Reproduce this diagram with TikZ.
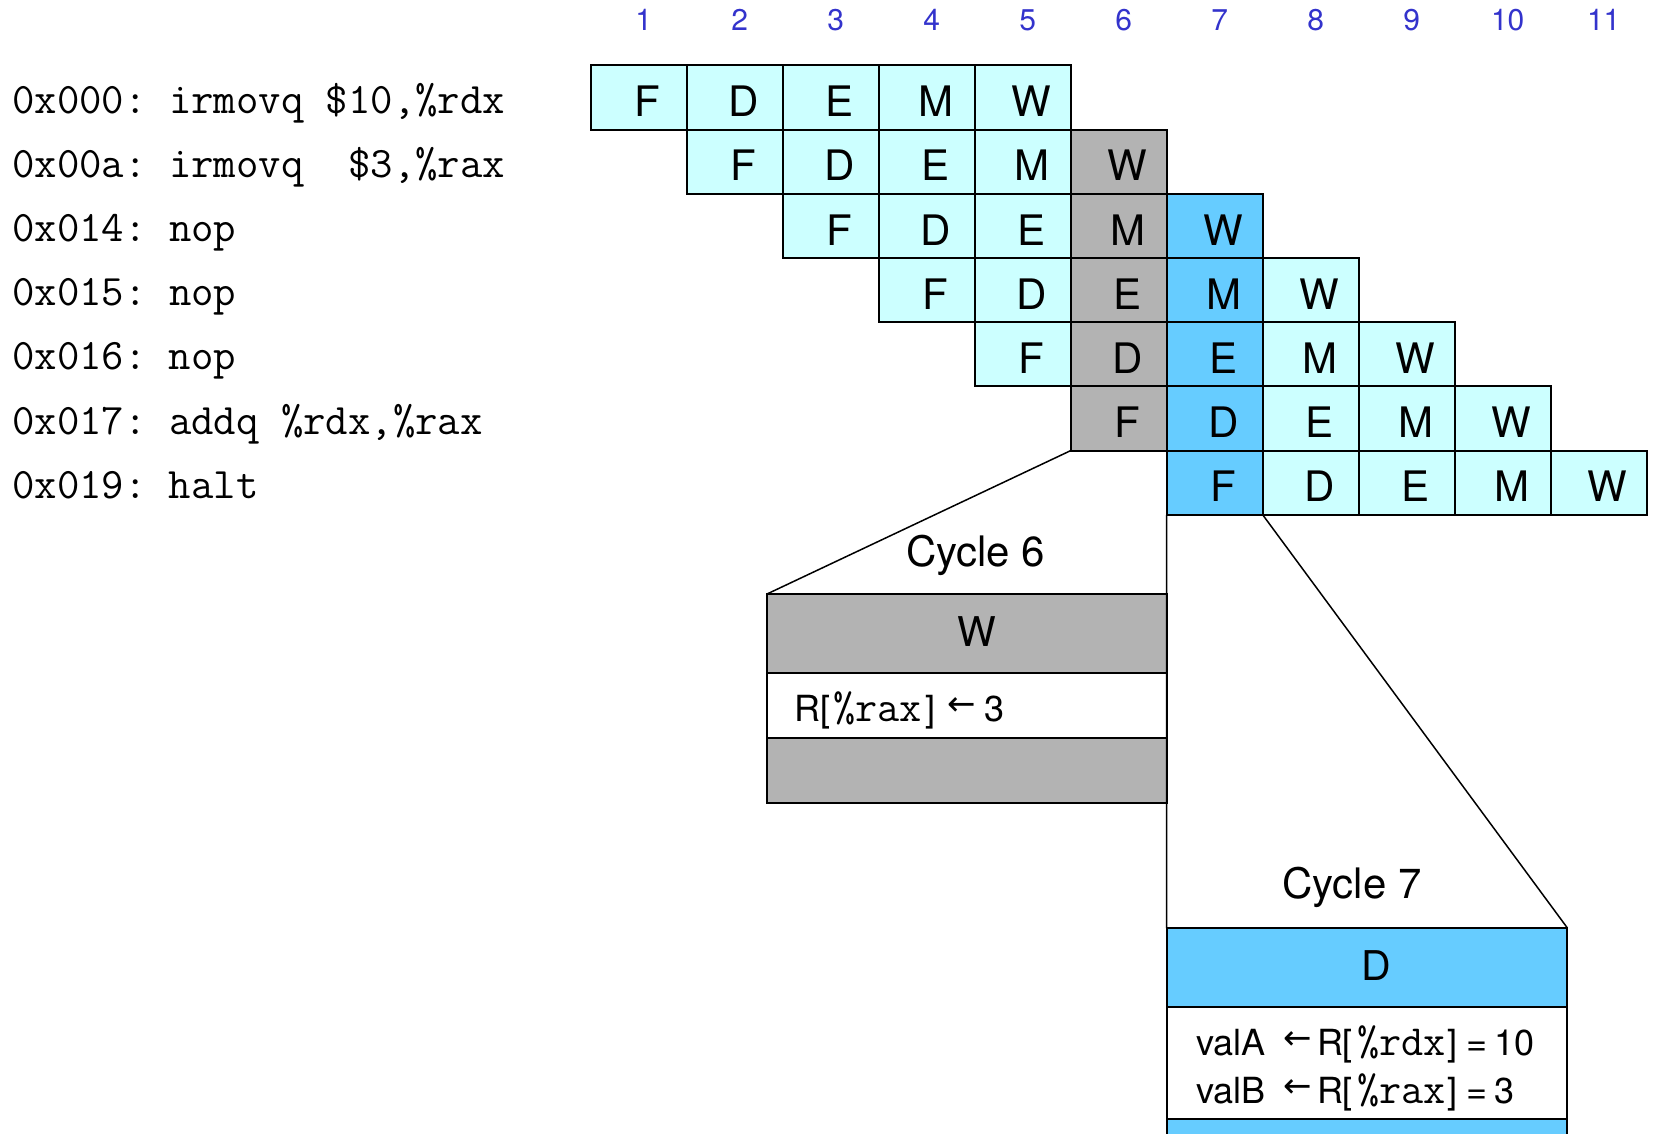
\documentclass[tikz,border=0pt]{standalone}
\usepackage{fontspec}
\setmainfont{TeX Gyre Heros}
\newfontfamily\dejavu{DejaVu Sans}
\usetikzlibrary{calc}
\definecolor{cellcyan}{HTML}{CCFFFF}
\definecolor{cellgray}{HTML}{B3B3B3}
\definecolor{cellblue}{HTML}{66CCFF}
\definecolor{numblue}{HTML}{3333CC}
\newcommand\larr{\raisebox{6pt}{\dejavu\fontsize{34}{34}\selectfont ←}}
\newcommand\monot[1]{{\ttfamily\fontsize{43}{43}\selectfont #1}}
\begin{document}
\begin{tikzpicture}[x=1pt,y=-1pt,
  cellbox/.style={draw=black, line width=2pt, minimum width=96pt, minimum height=64.2pt, inner sep=0pt, outer sep=0pt, anchor=north west},
  celltext/.style={inner sep=0pt, font=\fontsize{42}{42}\selectfont},
  numtext/.style={inner sep=0pt, text=numblue, font=\fontsize{30}{30}\selectfont},
  codetext/.style={inner sep=0pt, anchor=base west, font=\ttfamily\fontsize{43.5}{43.5}\selectfont\frenchspacing},
  bandbox/.style={draw=black, line width=2pt, inner sep=0pt, outer sep=0pt, anchor=north west},
  cyctext/.style={inner sep=0pt, anchor=base, font=\fontsize{42}{42}\selectfont},
  stagetext/.style={inner sep=0pt, anchor=base, font=\fontsize{41}{41}\selectfont},
  valtext/.style={inner sep=0pt, anchor=base west, font=\fontsize{36}{36}\selectfont},
  proj/.style={draw=black, line width=1.5pt}]
\useasboundingbox (0,0) rectangle (1654,1133);
\clip (0,0) rectangle (1654,1133);

% cycle numbers
\foreach \k in {1,...,11}
  \node[numtext] (n\k) at ({590.7+96*(\k-1)+53}, 20) {\k};

% code
\node[codetext] (code1) at (12,113) {0x000: irmovq \$10,\%rdx};
\node[codetext] (code2) at (12,177.2) {0x00a: irmovq~~\$3,\%rax};
\node[codetext] (code3) at (12,241.4) {0x014: nop};
\node[codetext] (code4) at (12,305.6) {0x015: nop};
\node[codetext] (code5) at (12,369.8) {0x016: nop};
\node[codetext] (code6) at (12,434) {0x017: addq \%rdx,\%rax};
\node[codetext] (code7) at (12,498.2) {0x019: halt};

% pipeline cells
\foreach \r in {1,...,7}{
  \foreach \s [count=\j] in {F,D,E,M,W}{
    \pgfmathtruncatemacro\k{\r+\j-1}
    \ifnum\k=6 \def\cc{cellgray}\else\ifnum\k=7 \def\cc{cellblue}\else\def\cc{cellcyan}\fi\fi
    \node[cellbox, fill=\cc] (c\r-\k) at ({590.7+96*(\k-1)}, {65.4+64.2*(\r-1)}) {};
    \node[celltext] (t\r-\k) at ($(c\r-\k.center)+(9,3.8)$) {\s};
  }
}

% cycle 6 detail
\node[bandbox, fill=cellgray, minimum width=399.6pt, minimum height=79pt] (b6a) at (767,594) {};
\node[bandbox, fill=cellgray, minimum width=399.6pt, minimum height=65pt] (b6c) at (767,738) {};
\node[bandbox, fill=white, minimum width=399.6pt, minimum height=65pt] (b6b) at (767,673) {};
\node[cyctext] (cyc6) at (975.7,566.7) {Cycle 6};
\node[stagetext] (s6) at (976.7,646) {W};
\node[valtext] (v6) at (794,721) {R[\hspace{3pt}\monot{\%rax}\hspace{4pt}]\hspace{12pt}\larr\hspace{8pt}3};

% cycle 7 detail
\node[bandbox, fill=cellblue, minimum width=400.8pt, minimum height=79pt] (b7a) at (1166.6,928) {};
\node[bandbox, fill=cellblue, minimum width=400.8pt, minimum height=40pt] (b7c) at (1166.6,1119) {};
\node[bandbox, fill=white, minimum width=400.8pt, minimum height=112pt] (b7b) at (1166.6,1007) {};
\node[cyctext] (cyc7) at (1352,898.3) {Cycle 7};
\node[stagetext] (s7) at (1376.7,980.7) {D};
\node[valtext] (va) at (1196,1055) {valA\hspace{18pt}\larr\hspace{5pt}R[\hspace{4pt}\monot{\%rdx}\hspace{2pt}]\hspace{9pt}=\hspace{7pt}10};
\node[valtext] (vb) at (1196,1103) {valB\hspace{18pt}\larr\hspace{5pt}R[\hspace{4pt}\monot{\%rax}\hspace{2pt}]\hspace{9pt}=\hspace{7pt}3};

% projection lines
\draw[proj] (c6-6.south west) -- (b6a.north west);
\draw[proj] (c7-7.south west) -- (b7a.north west);
\draw[proj] (c7-7.south east) -- (b7a.north east);
\end{tikzpicture}
\end{document}
